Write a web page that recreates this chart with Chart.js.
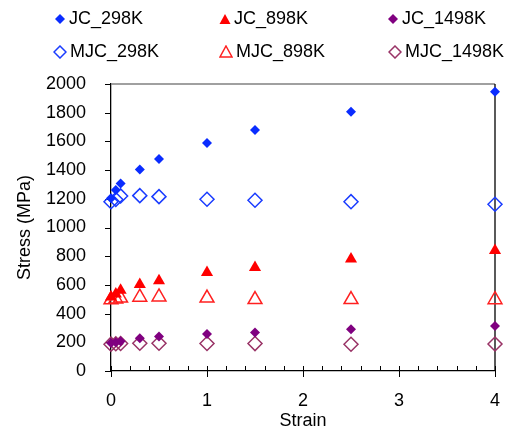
<!DOCTYPE html>
<html>
<head>
<meta charset="utf-8">
<script src="https://cdn.jsdelivr.net/npm/chart.js@4/dist/chart.umd.min.js"></script>
<style>
  html, body { margin: 0; padding: 0; background: #fff; }
  #wrap { position: relative; width: 512px; height: 432px; }
  #legend { position: absolute; left: 0; top: 0; width: 512px; height: 70px;
            font-family: "Liberation Sans", Arial, sans-serif; font-size: 18px; color: #000; }
  .item { position: absolute; display: flex; align-items: center; white-space: nowrap; }
  .item svg { margin-right: 3px; }
</style>
</head>
<body>
<div id="wrap">
  <canvas id="myChart" width="512" height="432"></canvas>
  <div id="legend"></div>
</div>
<script>
const strain = [0, 0.05, 0.1, 0.3, 0.5, 1, 1.5, 2.5, 4];
const jc298 = [1203, 1262, 1306, 1405, 1477, 1589, 1679, 1807, 1946];
const jc898 = [515, 537, 562, 603, 629, 686, 721, 780, 840];
const jc1498 = [195, 200, 207, 228, 240, 257, 268, 291, 313];
const mjc298 = [1180, 1195, 1220, 1222, 1215, 1197, 1190, 1180, 1162];
const mjc898 = [496, 502, 508, 514, 516, 508, 498, 498, 497];
const mjc1498 = [187, 190, 192, 193, 193, 192, 191, 186, 188];
const seriesNames = ['JC_298K', 'JC_898K', 'JC_1498K', 'MJC_298K', 'MJC_898K', 'MJC_1498K'];
const yTicks = [0, 200, 400, 600, 800, 1000, 1200, 1400, 1600, 1800, 2000];
const xTicks = [0, 1, 2, 3, 4];

function pts(arr) {
    return strain.map((s, i) => ({x: s, y: arr[i]}));
}

const styles = [
    {color: '#0a2cff', shape: 'rectRot', filled: true, r: 5},
    {color: '#ff0000', shape: 'triangle', filled: true, r: 7},
    {color: '#800080', shape: 'rectRot', filled: true, r: 5},
    {color: '#1a3cff', shape: 'rectRot', filled: false, r: 7},
    {color: '#ff2020', shape: 'triangle', filled: false, r: 8},
    {color: '#993366', shape: 'rectRot', filled: false, r: 7}
];
const values = [jc298, jc898, jc1498, mjc298, mjc898, mjc1498];

const datasets = values.map((v, i) => ({
    label: seriesNames[i],
    data: pts(v),
    clip: false,
    pointStyle: styles[i].shape,
    pointRadius: styles[i].r,
    pointHoverRadius: styles[i].r,
    pointBackgroundColor: styles[i].filled ? styles[i].color : 'rgba(0,0,0,0)',
    pointBorderColor: styles[i].color,
    pointBorderWidth: styles[i].filled ? 0 : 1.5,
    showLine: false
}));

// frame, tick marks (major + minor)
const framePlugin = {
    id: 'frame',
    beforeDatasetsDraw(chart) {
        const c = chart.ctx, a = chart.chartArea, xs = chart.scales.x, ys = chart.scales.y;
        c.save();
        c.lineWidth = 1.3;
        c.strokeStyle = '#808080';
        c.beginPath(); c.moveTo(a.left, a.top); c.lineTo(a.right, a.top); c.stroke();
        c.strokeStyle = '#000';
        c.beginPath(); c.moveTo(a.right, a.top); c.lineTo(a.right, a.bottom); c.stroke();
        c.lineWidth = 1;
        for (let k = 0; k <= 20; k++) {
            const px = Math.round(xs.getPixelForValue(k * 0.2)) + 0.5;
            const major = k % 5 === 0;
            c.beginPath();
            c.moveTo(px, a.bottom + (major ? 6 : 0));
            c.lineTo(px, a.bottom - 5);
            c.stroke();
        }
        yTicks.forEach(v => {
            const py = Math.round(ys.getPixelForValue(v)) + 0.5;
            c.beginPath(); c.moveTo(a.left - 6, py); c.lineTo(a.left, py); c.stroke();
        });
        c.restore();
    }
};

const ctx = document.getElementById('myChart').getContext('2d');
const myChart = new Chart(ctx, {
    type: 'scatter',
    data: { datasets: datasets },
    plugins: [framePlugin],
    options: {
        responsive: false,
        animation: false,
        events: [],
        layout: { autoPadding: false, padding: { top: 84, right: 17, left: 0, bottom: 0 } },
        plugins: { legend: { display: false }, tooltip: { enabled: false } },
        scales: {
            x: {
                type: 'linear', min: 0, max: 4,
                afterFit(s) { s.height = 61; },
                afterBuildTicks(s) { s.ticks = xTicks.map(v => ({value: v})); },
                grid: { display: false },
                border: { color: '#000', width: 1.3 },
                ticks: { color: '#000', padding: 11, callback: v => String(v),
                         font: { family: 'Liberation Sans', size: 18 } },
                title: { display: true, text: 'Strain', color: '#000', padding: 0,
                         font: { family: 'Liberation Sans', size: 18 } }
            },
            y: {
                type: 'linear', min: 0, max: 2000,
                afterFit(s) { s.width = 111; },
                afterBuildTicks(s) { s.ticks = yTicks.map(v => ({value: v})); },
                grid: { display: false },
                border: { color: '#000', width: 1.3 },
                ticks: { color: '#000', padding: 17, callback: v => String(v),
                         font: { family: 'Liberation Sans', size: 18 } },
                title: { display: true, text: 'Stress (MPa)', color: '#000', padding: { top: 14, bottom: 0 },
                         font: { family: 'Liberation Sans', size: 18 } }
            }
        }
    }
});

// legend in three columns, two rows
const legendPos = [[54, 19], [219, 19], [387, 19], [53, 52], [219, 52], [388, 52]];
const legendEl = document.getElementById('legend');
seriesNames.forEach((name, i) => {
    const st = styles[i];
    const fill = st.filled ? st.color : 'none';
    let shape;
    if (st.shape === 'triangle') {
        shape = st.filled
            ? '<polygon points="6,1 11.5,11 0.5,11" fill="' + fill + '"/>'
            : '<polygon points="7,1 13,12 1,12" fill="none" stroke="' + st.color + '" stroke-width="1.5"/>';
    } else {
        shape = st.filled
            ? '<polygon points="6,1 11,6 6,11 1,6" fill="' + fill + '"/>'
            : '<polygon points="7,1 13,7 7,13 1,7" fill="none" stroke="' + st.color + '" stroke-width="1.5"/>';
    }
    const w = st.filled ? 12 : 14;
    const div = document.createElement('div');
    div.className = 'item';
    div.style.left = legendPos[i][0] + 'px';
    div.style.top = (legendPos[i][1] - 11) + 'px';
    div.innerHTML = '<svg width="' + w + '" height="' + w + '">' + shape + '</svg><span>' + name + '</span>';
    legendEl.appendChild(div);
});
</script>
</body>
</html>
